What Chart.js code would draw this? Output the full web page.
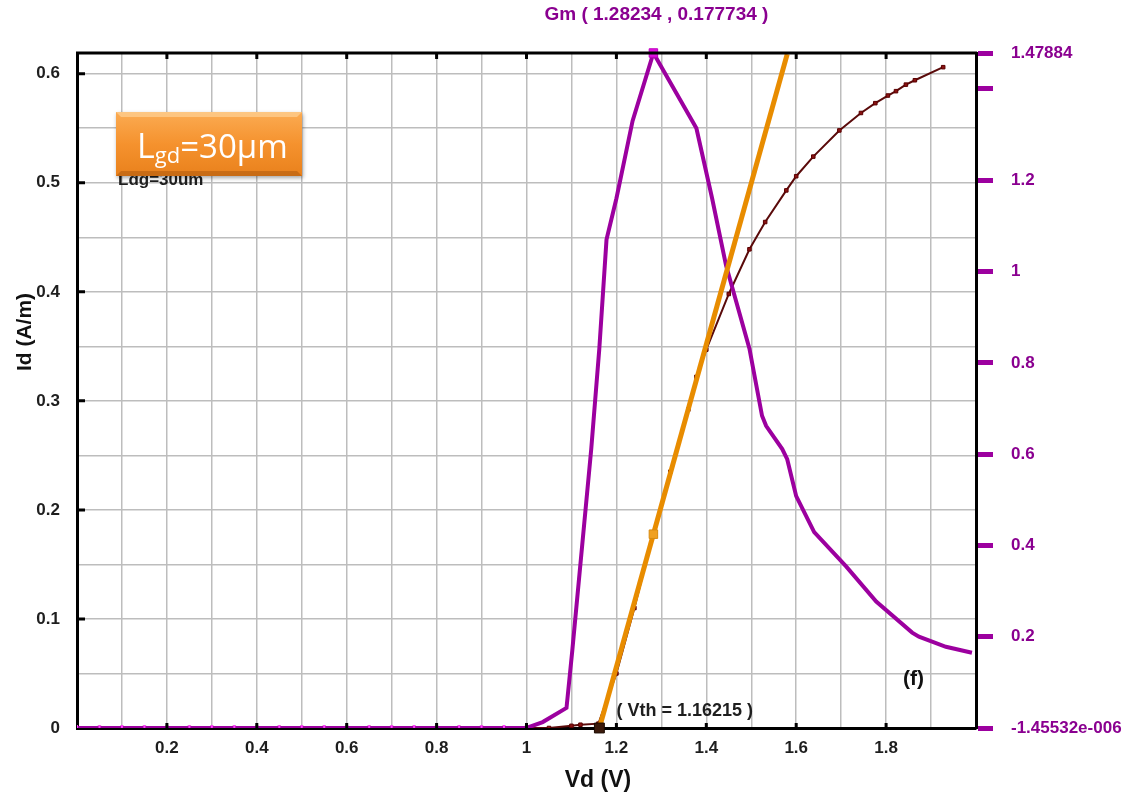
<!DOCTYPE html>
<html>
<head>
<meta charset="utf-8">
<title>Id / Gm vs Vd</title>
<script src="https://cdn.jsdelivr.net/npm/chart.js@4.4.1/dist/chart.umd.min.js"></script>
<style>
    html, body { margin: 0; padding: 0; background: #ffffff; }
    #GraphIdGm { display: block; }
</style>
</head>
<body>
<canvas id="GraphIdGm" width="1135" height="802"></canvas>
<script>
// Id curve (left axis, A/m)
var vdId = [0, 0.05, 0.1, 0.15, 0.2, 0.25, 0.3, 0.35, 0.4, 0.45, 0.5, 0.55, 0.6, 0.65, 0.7, 0.75, 0.8, 0.85, 0.9, 0.95, 1.0, 1.05,
            1.1, 1.12, 1.16, 1.2, 1.24, 1.28, 1.32, 1.36, 1.378, 1.4, 1.45, 1.496, 1.531, 1.578, 1.6, 1.638, 1.696, 1.744,
            1.776, 1.804, 1.822, 1.844, 1.864, 1.927];
var idVals = [0, 0, 0, 0, 0, 0, 0, 0, 0, 0, 0, 0, 0, 0, 0, 0, 0, 0, 0, 0, 0, 0,
              0.002, 0.003, 0.004, 0.05, 0.11, 0.175, 0.235, 0.292, 0.322, 0.347, 0.398, 0.439, 0.464, 0.493, 0.506, 0.524, 0.548, 0.564,
              0.573, 0.580, 0.584, 0.590, 0.594, 0.606];

// Gm curve (right axis)
var vdGm = [0, 0.05, 0.1, 0.15, 0.2, 0.25, 0.3, 0.35, 0.4, 0.45, 0.5, 0.55, 0.6, 0.65, 0.7, 0.75, 0.8, 0.85, 0.9, 0.95, 1.0,
            1.036, 1.089, 1.102, 1.144, 1.162, 1.178, 1.2, 1.236, 1.28234, 1.378, 1.413, 1.444, 1.496, 1.524, 1.533, 1.569,
            1.58, 1.6, 1.64, 1.711, 1.778, 1.858, 1.873, 1.933, 1.991];
var gmVals = [0, 0, 0, 0, 0, 0, 0, 0, 0, 0, 0, 0, 0, 0, 0, 0, 0, 0, 0, 0, 0,
              0.013, 0.044, 0.171, 0.611, 0.831, 1.07, 1.16, 1.33, 1.47884, 1.314, 1.16, 1.013, 0.831, 0.684, 0.662, 0.611,
              0.589, 0.508, 0.429, 0.354, 0.277, 0.209, 0.2, 0.178, 0.165];

// tangent line at max Gm, and the marked points
var tangentVd = [1.16215, 1.58];
var tangentId = [0, 0.618];
var vthPoint = [1.16215, 0];
var idAtPeak = [1.28234, 0.177734];
var gmPeak = [1.28234, 1.47884];

// right axis ticks
var gmTicks = [-1.45532e-6, 0.2, 0.4, 0.6, 0.8, 1, 1.2, 1.4, 1.47884];
var gmTickLabels = ['-1.45532e-006', '0.2', '0.4', '0.6', '0.8', '1', '1.2', '', '1.47884'];

var narrow = "'Liberation Sans Narrow', 'Arial Narrow', 'Liberation Sans', sans-serif";
var purple = '#9c009f';
var darkText = '#1e1e1e';

function pts(xs, ys) {
    var out = [];
    for (var i = 0; i < xs.length; i++) {
        out.push({x: xs[i], y: ys[i]});
    }
    return out;
}

function isStep(v, n) {
    var k = v * n;
    return Math.abs(k - Math.round(k)) < 1e-6;
}

var decorPlugin = {
    id: 'decor',
    afterDraw: function(chart) {
        var ctx = chart.ctx;
        var area = chart.chartArea;
        var xs = chart.scales.x;
        var ys = chart.scales.y;
        ctx.save();

        // top frame line
        ctx.strokeStyle = '#000';
        ctx.lineWidth = 3;
        ctx.beginPath();
        ctx.moveTo(area.left - 1, area.top);
        ctx.lineTo(area.right + 1, area.top);
        ctx.stroke();

        // inward ticks on left axis (0.1) and top/bottom (0.2)
        ctx.beginPath();
        for (var v = 0.1; v < 0.61; v += 0.1) {
            var py = ys.getPixelForValue(v);
            ctx.moveTo(area.left, py);
            ctx.lineTo(area.left + 8, py);
        }
        for (var t = 0.2; t < 1.99; t += 0.2) {
            var px = xs.getPixelForValue(t);
            ctx.moveTo(px, area.top);
            ctx.lineTo(px, area.top + 6);
            ctx.moveTo(px, area.bottom);
            ctx.lineTo(px, area.bottom - 5);
        }
        ctx.stroke();

        // axis titles
        ctx.fillStyle = '#111';
        ctx.font = "bold 23px 'Liberation Sans', Arial, sans-serif";
        ctx.textAlign = 'center';
        ctx.textBaseline = 'middle';
        ctx.fillText('Vd (V)', 598, 781);
        ctx.save();
        ctx.translate(25, 332);
        ctx.rotate(-Math.PI / 2);
        ctx.font = "bold 21px 'Liberation Sans', Arial, sans-serif";
        ctx.fillText('Id (A/m)', 0, 0);
        ctx.restore();

        // Gm peak annotation
        ctx.fillStyle = '#8a0090';
        ctx.font = 'bold 19px ' + narrow;
        ctx.textAlign = 'center';
        ctx.fillText('Gm ( 1.28234 , 0.177734 )', xs.getPixelForValue(gmPeak[0]) + 3, 15);

        // Vth annotation
        ctx.fillStyle = darkText;
        ctx.font = 'bold 18px ' + narrow;
        ctx.textAlign = 'left';
        ctx.fillText('( Vth = 1.16215 )', xs.getPixelForValue(vthPoint[0]) + 17, 711);

        // panel letter
        ctx.font = "bold 21px 'Liberation Sans', Arial, sans-serif";
        ctx.fillStyle = '#111';
        ctx.fillText('(f)', 903, 679);

        // old label partly under the box
        ctx.font = 'bold 17px ' + narrow;
        ctx.fillStyle = darkText;
        ctx.fillText('Ldg=30um', 118, 180);

        // orange label box
        var bx = 116, by = 112, bw = 186, bh = 64;
        ctx.shadowColor = 'rgba(0,0,0,0.35)';
        ctx.shadowBlur = 4;
        ctx.shadowOffsetX = 1;
        ctx.shadowOffsetY = 2;
        var g = ctx.createLinearGradient(0, by, 0, by + bh);
        g.addColorStop(0, '#fbab52');
        g.addColorStop(0.5, '#f5922e');
        g.addColorStop(1, '#e9811c');
        ctx.fillStyle = g;
        ctx.fillRect(bx, by, bw, bh);
        ctx.shadowColor = 'transparent';
        // bevel edges
        ctx.fillStyle = 'rgba(255,220,170,0.55)';
        ctx.beginPath();
        ctx.moveTo(bx, by); ctx.lineTo(bx + bw, by); ctx.lineTo(bx + bw - 5, by + 5); ctx.lineTo(bx + 5, by + 5);
        ctx.closePath(); ctx.fill();
        ctx.fillStyle = 'rgba(160,80,10,0.45)';
        ctx.beginPath();
        ctx.moveTo(bx, by + bh); ctx.lineTo(bx + bw, by + bh); ctx.lineTo(bx + bw - 5, by + bh - 5); ctx.lineTo(bx + 5, by + bh - 5);
        ctx.closePath(); ctx.fill();

        ctx.fillStyle = '#ffffff';
        ctx.textBaseline = 'alphabetic';
        ctx.textAlign = 'left';
        ctx.font = "34px 'Open Sans', 'Noto Sans', sans-serif";
        var tx = 137, ty = 158;
        ctx.fillText('L', tx, ty);
        tx += ctx.measureText('L').width;
        ctx.font = "22px 'Open Sans', 'Noto Sans', sans-serif";
        ctx.fillText('gd', tx, ty + 5);
        tx += ctx.measureText('gd').width;
        ctx.font = "33px 'Open Sans', 'Noto Sans', sans-serif";
        ctx.fillText('=30\u03bcm', tx, ty);

        ctx.restore();
    }
};

var chartdata = {
    datasets: [
        {
            label: 'Vth point',
            data: [{x: vthPoint[0], y: vthPoint[1]}],
            yAxisID: 'y',
            showLine: false,
            pointStyle: 'rect',
            pointRadius: 7,
            backgroundColor: '#3b1a0c',
            borderColor: '#1a0a00',
            borderWidth: 1,
            clip: false,
            order: 0
        },
        {
            label: 'Id at Gm max',
            data: [{x: idAtPeak[0], y: idAtPeak[1]}],
            yAxisID: 'y',
            showLine: false,
            pointStyle: 'rect',
            pointRadius: 6,
            backgroundColor: '#f0a020',
            borderColor: '#d88a10',
            borderWidth: 1,
            clip: false,
            order: 0
        },
        {
            label: 'Gm max',
            data: [{x: gmPeak[0], y: gmPeak[1]}],
            yAxisID: 'y2',
            showLine: false,
            pointStyle: 'rect',
            pointRadius: 6,
            backgroundColor: '#e010e0',
            borderColor: '#c000c0',
            borderWidth: 1,
            clip: false,
            order: 0
        },
        {
            label: 'Tangent',
            data: pts(tangentVd, tangentId),
            yAxisID: 'y',
            borderColor: '#e88c00',
            borderWidth: 5,
            pointRadius: 0,
            tension: 0,
            order: 1
        },
        {
            label: 'Gm',
            data: pts(vdGm, gmVals),
            yAxisID: 'y2',
            borderColor: purple,
            borderWidth: 4,
            pointStyle: 'line',
            pointRotation: 90,
            pointRadius: function(c) { return c.raw && c.raw.y === 0 && c.raw.x < 1 ? 3 : 0; },
            pointBorderColor: '#ff3cff',
            pointBorderWidth: 2,
            tension: 0,
            order: 2
        },
        {
            label: 'Id',
            data: pts(vdId, idVals),
            yAxisID: 'y',
            borderColor: '#5a0a0a',
            borderWidth: 2,
            pointStyle: 'rect',
            pointRadius: 2.5,
            backgroundColor: '#8a1212',
            pointBorderColor: '#5a0000',
            pointBorderWidth: 1,
            tension: 0,
            order: 3
        }
    ]
};

var ctx = document.getElementById('GraphIdGm');
var IdGmGraph = new Chart(ctx, {
    type: 'line',
    data: chartdata,
    options: {
        responsive: false,
        animation: false,
        events: [],
        layout: { padding: { top: 53, left: 0, right: 0, bottom: 0 } },
        plugins: {
            legend: { display: false },
            tooltip: { enabled: false }
        },
        scales: {
            x: {
                type: 'linear',
                min: 0,
                max: 2,
                afterFit: function(scale) { scale.height = 74; },
                border: { color: '#000', width: 3 },
                grid: { color: '#bdbdbd', lineWidth: 1.5, drawTicks: false },
                ticks: {
                    stepSize: 0.1,
                    autoSkip: false,
                    maxRotation: 0,
                    padding: 10,
                    color: darkText,
                    font: { family: narrow, size: 17, weight: 'bold' },
                    callback: function(v) {
                        if (v <= 0 || v >= 1.99 || !isStep(v, 5)) return '';
                        return v === 1 ? '1' : v.toFixed(1);
                    }
                }
            },
            y: {
                type: 'linear',
                position: 'left',
                min: 0,
                max: 0.619,
                afterFit: function(scale) { scale.width = 77; },
                border: { color: '#000', width: 3 },
                grid: { color: '#bdbdbd', lineWidth: 1.5, drawTicks: false },
                ticks: {
                    stepSize: 0.05,
                    autoSkip: false,
                    padding: 17,
                    color: darkText,
                    font: { family: narrow, size: 17, weight: 'bold' },
                    callback: function(v) {
                        if (!isStep(v, 10)) return '';
                        return v === 0 ? '0' : v.toFixed(1);
                    }
                }
            },
            y2: {
                type: 'linear',
                position: 'right',
                min: gmTicks[0],
                max: gmTicks[gmTicks.length - 1],
                afterFit: function(scale) { scale.width = 159; },
                afterBuildTicks: function(scale) {
                    scale.ticks = gmTicks.map(function(v) { return {value: v}; });
                },
                border: { color: '#000', width: 3 },
                grid: {
                    drawOnChartArea: false,
                    drawTicks: true,
                    tickLength: 17,
                    tickWidth: 5,
                    tickColor: purple
                },
                ticks: {
                    autoSkip: false,
                    padding: 18,
                    crossAlign: 'near',
                    color: '#8a0090',
                    font: { family: narrow, size: 17, weight: 'bold' },
                    callback: function(v, i) { return gmTickLabels[i]; }
                }
            }
        }
    },
    plugins: [decorPlugin]
});
</script>
</body>
</html>
